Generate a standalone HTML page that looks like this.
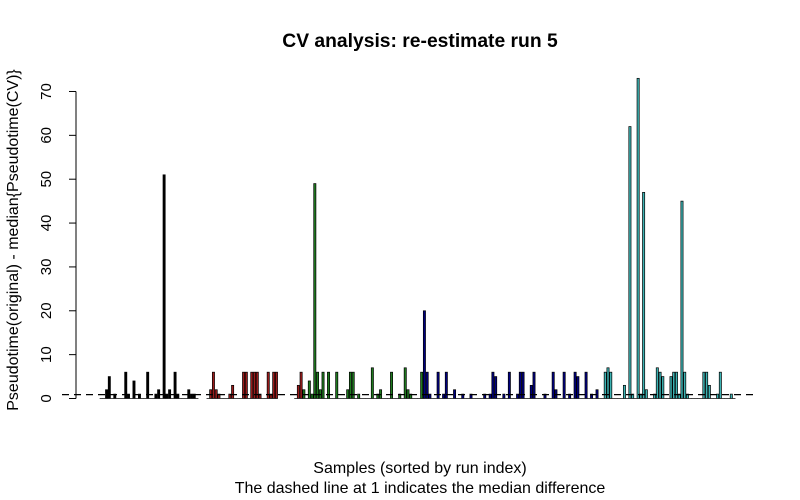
<!DOCTYPE html>
<html><head><meta charset="utf-8"><style>
body{margin:0;background:#fff}
svg{display:block;font-family:"Liberation Sans",sans-serif}
</style></head><body>
<svg id="chart" width="800" height="500" viewBox="0 0 800 500">
<text x="420" y="47" text-anchor="middle" font-size="19.3" font-weight="bold">CV analysis: re-estimate run 5</text>
<text x="420" y="473" text-anchor="middle" font-size="16">Samples (sorted by run index)</text>
<text x="420" y="493" text-anchor="middle" font-size="16">The dashed line at 1 indicates the median difference</text>
<text transform="translate(18,240) rotate(-90)" text-anchor="middle" font-size="16">Pseudotime(original) - median{Pseudotime(CV)}</text>
<g id="axis"></g>
<g id="bars"></g>
<line x1="62" x2="758" y1="394.6" y2="394.6" stroke="#000" stroke-width="1.2" stroke-dasharray="7,5"/>
</svg>
<script>
const yTicks=[0,10,20,30,40,50,60,70];
const groupNames=["run1","run2","run3","run4","run5"];
const groupColors=["#000000","#9b1b1b","#1e7a1e","#000080","#3cb3b3"];
const run1=[0,0,2,5,0,1,0,0,0,6,1,0,4,0,1,0,0,6,0,0,1,2,0,51,1,2,0,6,1,0,0,0,2,1,1,0];
const gap1=[null,null,null];
const run2=[0,2,6,2,1,0,0,0,1,3,0,0,0,6,6,0,6,6,6,1,0,0,6,1,6,6,null,null,null,null,null,null,0,3,6];
const run3=[2,0,4,1,49,6,2,6,0,6,0,0,6,0,0,0,2,6,6,0,1,0,0,0,0,7,0,1,2,0,0,0,6,0,0,1,0,7,2,1,0,0,0,6];
const run4=[20,6,1,0,0,6,0,1,6,0,0,2,0,0,1,0,0,1,0,0,0,0,1,0,1,6,5,0,0,1,0,6,0,0,1,6,6,0,0,3,6,0,0,0,1,0,0,6,2,0,0,6,0,1,0,6,5,0,0,6,0,1,0,2];
const run5=[0,0,6,7,6,0,0,0,0,3,0,62,1,0,73,1,47,2,0,0,1,7,6,5,0,0,5,6,6,1,45,6,1,0,0,0,0,0,6,6,3,0,0,1,6,0,0,0,1,0];
const NS="http://www.w3.org/2000/svg";
const y0=398.5,perUnit=4.386,x0=100,pitch=2.74,bw=2.2;
function yScale(v){return y0-v*perUnit;}
function xScale(i){return x0+i*pitch;}
const ax=document.getElementById('axis');
const axLine=document.createElementNS(NS,'line');


axLine.setAttribute('x1',76);axLine.setAttribute('x2',76);
axLine.setAttribute('y1',yScale(0));axLine.setAttribute('y2',yScale(70));
axLine.setAttribute('stroke','#000');ax.appendChild(axLine);
yTicks.forEach(t=>{
 const l=document.createElementNS(NS,'line');
 
 
 l.setAttribute('x1',69);l.setAttribute('x2',76);l.setAttribute('y1',yScale(t));l.setAttribute('y2',yScale(t));
 l.setAttribute('stroke','#000');ax.appendChild(l);
 const tx=document.createElementNS(NS,'text');
 
 
 tx.setAttribute('transform','translate(51,'+yScale(t)+') rotate(-90)');
 tx.setAttribute('text-anchor','middle');tx.setAttribute('font-size','15');
 tx.textContent=t;ax.appendChild(tx);
});
const series=[run1,gap1,run2,run3,run4,run5];
const colorIdx=[0,null,1,2,3,4];
const bg=document.getElementById('bars');
let idx=0;
series.forEach((arr,s)=>{
 arr.forEach(v=>{
  if(v!==null){
   const r=document.createElementNS(NS,'rect');
   
   
   const top=yScale(v);
   r.setAttribute('x',xScale(idx));r.setAttribute('width',bw);
   r.setAttribute('y',top);r.setAttribute('height',Math.max(y0-top,0.01));
   r.setAttribute('fill',groupColors[colorIdx[s]]);
   r.setAttribute('stroke','#000');r.setAttribute('stroke-width','0.7');
   bg.appendChild(r);
  }
  idx++;
 });
});
</script>
</body></html>
